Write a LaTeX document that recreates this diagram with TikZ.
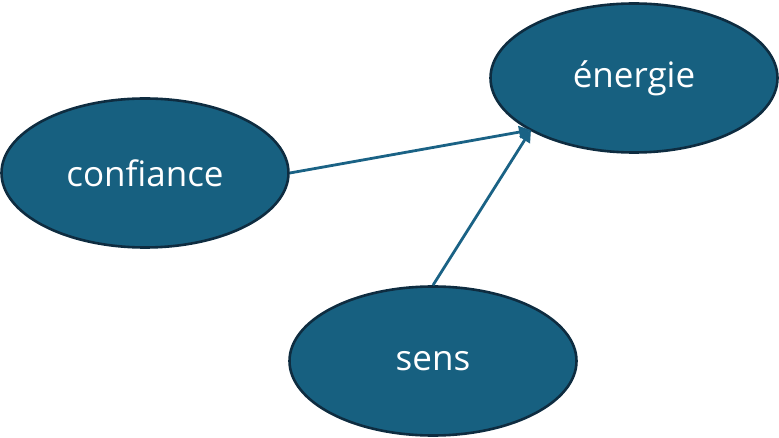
\documentclass[tikz,border=0pt]{standalone}
\usepackage{fontspec}
\setmainfont{Open Sans}
\usetikzlibrary{shapes.geometric,arrows.meta}
\definecolor{fillblue}{RGB}{23,96,128}
\definecolor{edgeblue}{RGB}{14,44,64}
\definecolor{arrowblue}{RGB}{26,98,133}
\tikzset{
  bubble/.style={ellipse,draw=edgeblue,fill=fillblue,line width=2.6pt,
    minimum width=287pt,minimum height=149pt,inner sep=0pt,
    text=white,font=\fontsize{35}{42}\selectfont},
  link/.style={draw=arrowblue,line width=2.8pt,-{Triangle[length=12pt,width=12pt]}}
}
\begin{document}
\begin{tikzpicture}[x=1pt,y=-1pt]
\useasboundingbox (0,0) rectangle (779,438);
\node[bubble] (e) at (634,78) {énergie};
\node[bubble] (c) at (145,173) {confiance};
\node[bubble] (s) at (433,361) {sens};
\coordinate (t) at (531,130);
\draw[link] (c.east) -- (t);
\draw[link] (s.north) -- (t);
\end{tikzpicture}
\end{document}
